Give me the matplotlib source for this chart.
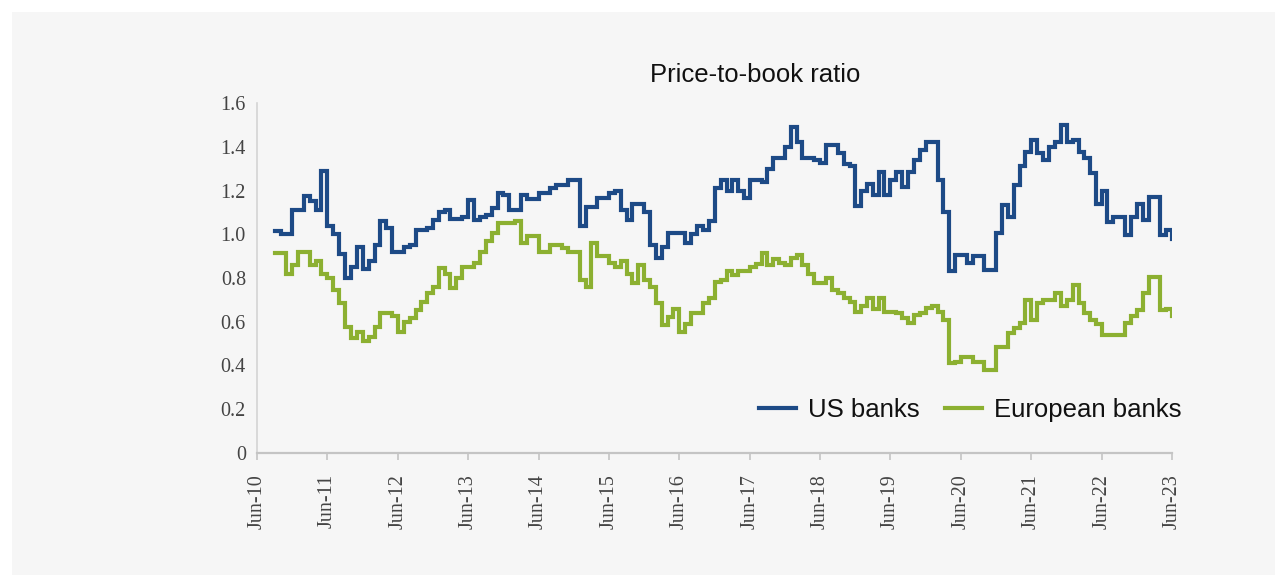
import matplotlib
matplotlib.use("Agg")
import matplotlib.dates as mdates
import matplotlib.pyplot as plt
import pandas as pd
from matplotlib.patches import Rectangle

# Monthly price-to-book readings (value applies from that month on)
us_dates = [
    "2010-09", "2010-10", "2010-12", "2011-02", "2011-03", "2011-04", "2011-05", "2011-06",
    "2011-07", "2011-08", "2011-09", "2011-10", "2011-11", "2011-12", "2012-01", "2012-02",
    "2012-03", "2012-04", "2012-05", "2012-07", "2012-08", "2012-09", "2012-11", "2012-12",
    "2013-01", "2013-02", "2013-03", "2013-05", "2013-06", "2013-07", "2013-08", "2013-09",
    "2013-10", "2013-11", "2013-12", "2014-01", "2014-03", "2014-04", "2014-06", "2014-08",
    "2014-09", "2014-11", "2015-01", "2015-02", "2015-04", "2015-06", "2015-07", "2015-08",
    "2015-09", "2015-10", "2015-12", "2016-01", "2016-02", "2016-03", "2016-04", "2016-07",
    "2016-08", "2016-09", "2016-10", "2016-11", "2016-12", "2017-01", "2017-02", "2017-03",
    "2017-04", "2017-05", "2017-06", "2017-08", "2017-09", "2017-10", "2017-12", "2018-01",
    "2018-02", "2018-03", "2018-05", "2018-06", "2018-07", "2018-09", "2018-10", "2018-11",
    "2018-12", "2019-01", "2019-02", "2019-03", "2019-04", "2019-05", "2019-06", "2019-07",
    "2019-08", "2019-09", "2019-10", "2019-11", "2019-12", "2020-02", "2020-03", "2020-04",
    "2020-05", "2020-07", "2020-08", "2020-10", "2020-12", "2021-01", "2021-02", "2021-03",
    "2021-04", "2021-05", "2021-06", "2021-07", "2021-08", "2021-09", "2021-10", "2021-11",
    "2021-12", "2022-01", "2022-02", "2022-03", "2022-04", "2022-05", "2022-06", "2022-07",
    "2022-08", "2022-10", "2022-11", "2022-12", "2023-01", "2023-02", "2023-04", "2023-05",
    "2023-06",
]
us_values = [
    1.015, 1.00, 1.11, 1.175, 1.15, 1.11, 1.29, 1.04,
    1.00, 0.91, 0.80, 0.85, 0.94, 0.84, 0.88, 0.95,
    1.06, 1.03, 0.92, 0.94, 0.95, 1.02, 1.03, 1.065,
    1.10, 1.11, 1.07, 1.08, 1.157, 1.065, 1.08, 1.09,
    1.12, 1.19, 1.18, 1.11, 1.18, 1.16, 1.19, 1.21,
    1.225, 1.25, 1.04, 1.125, 1.165, 1.19, 1.20, 1.11,
    1.065, 1.14, 1.10, 0.95, 0.89, 0.94, 1.005, 0.96,
    1.00, 1.04, 1.02, 1.06, 1.21, 1.25, 1.20, 1.25,
    1.20, 1.165, 1.25, 1.24, 1.30, 1.35, 1.40, 1.49,
    1.42, 1.35, 1.34, 1.325, 1.41, 1.37, 1.32, 1.31,
    1.13, 1.20, 1.23, 1.18, 1.285, 1.18, 1.25, 1.285,
    1.215, 1.285, 1.34, 1.385, 1.42, 1.25, 1.10, 0.83,
    0.905, 0.87, 0.90, 0.835, 1.005, 1.135, 1.08, 1.225,
    1.31, 1.375, 1.43, 1.37, 1.34, 1.40, 1.42, 1.50,
    1.42, 1.43, 1.375, 1.35, 1.28, 1.14, 1.20, 1.055,
    1.08, 0.995, 1.08, 1.14, 1.065, 1.17, 0.995, 1.02,
    0.98,
]

eu_dates = [
    "2010-09", "2010-11", "2010-12", "2011-01", "2011-03", "2011-04", "2011-05", "2011-06",
    "2011-07", "2011-08", "2011-09", "2011-10", "2011-11", "2011-12", "2012-01", "2012-02",
    "2012-03", "2012-05", "2012-06", "2012-07", "2012-08", "2012-09", "2012-10", "2012-11",
    "2012-12", "2013-01", "2013-02", "2013-03", "2013-04", "2013-05", "2013-07", "2013-08",
    "2013-09", "2013-10", "2013-11", "2014-02", "2014-03", "2014-04", "2014-06", "2014-08",
    "2014-10", "2014-11", "2015-01", "2015-02", "2015-03", "2015-04", "2015-06", "2015-07",
    "2015-08", "2015-09", "2015-10", "2015-11", "2015-12", "2016-01", "2016-02", "2016-03",
    "2016-04", "2016-05", "2016-06", "2016-07", "2016-08", "2016-10", "2016-11", "2016-12",
    "2017-01", "2017-02", "2017-03", "2017-04", "2017-06", "2017-07", "2017-08", "2017-09",
    "2017-10", "2017-11", "2017-12", "2018-01", "2018-02", "2018-03", "2018-04", "2018-05",
    "2018-07", "2018-08", "2018-09", "2018-10", "2018-11", "2018-12", "2019-01", "2019-02",
    "2019-03", "2019-04", "2019-05", "2019-07", "2019-08", "2019-09", "2019-10", "2019-11",
    "2019-12", "2020-01", "2020-02", "2020-03", "2020-04", "2020-05", "2020-06", "2020-08",
    "2020-10", "2020-12", "2021-02", "2021-03", "2021-04", "2021-05", "2021-06", "2021-07",
    "2021-08", "2021-10", "2021-11", "2021-12", "2022-01", "2022-02", "2022-03", "2022-04",
    "2022-05", "2022-06", "2022-10", "2022-11", "2022-12", "2023-01", "2023-02", "2023-04",
    "2023-05", "2023-06",
]
eu_values = [
    0.915, 0.82, 0.86, 0.92, 0.86, 0.88, 0.82, 0.80,
    0.745, 0.685, 0.575, 0.525, 0.555, 0.51, 0.53, 0.575,
    0.64, 0.625, 0.555, 0.60, 0.617, 0.655, 0.69, 0.73,
    0.76, 0.845, 0.82, 0.755, 0.80, 0.85, 0.87, 0.92,
    0.97, 1.005, 1.05, 1.06, 0.96, 0.99, 0.92, 0.95,
    0.935, 0.92, 0.79, 0.76, 0.96, 0.90, 0.87, 0.85,
    0.88, 0.82, 0.775, 0.86, 0.79, 0.76, 0.685, 0.585,
    0.62, 0.66, 0.555, 0.59, 0.64, 0.685, 0.71, 0.78,
    0.79, 0.83, 0.815, 0.83, 0.85, 0.865, 0.915, 0.86,
    0.885, 0.87, 0.86, 0.89, 0.905, 0.86, 0.82, 0.775,
    0.80, 0.745, 0.73, 0.71, 0.69, 0.645, 0.67, 0.71,
    0.66, 0.71, 0.645, 0.64, 0.617, 0.595, 0.63, 0.64,
    0.665, 0.67, 0.645, 0.61, 0.41, 0.415, 0.44, 0.415,
    0.38, 0.485, 0.55, 0.57, 0.595, 0.70, 0.61, 0.685,
    0.70, 0.73, 0.67, 0.70, 0.77, 0.685, 0.64, 0.61,
    0.59, 0.54, 0.595, 0.625, 0.655, 0.73, 0.805, 0.655,
    0.66, 0.625,
]

tick_years = list(range(2010, 2024))
y_ticks = [0, 0.2, 0.4, 0.6, 0.8, 1.0, 1.2, 1.4, 1.6]
y_tick_labels = ["0", "0.2", "0.4", "0.6", "0.8", "1.0", "1.2", "1.4", "1.6"]

US_BLUE = "#1d4a86"
EU_GREEN = "#8cb031"
PANEL = "#f6f6f6"

fig = plt.figure(figsize=(12.75, 5.75), dpi=100, facecolor="white")
# light grey card behind everything
fig.patches.append(Rectangle((12 / 1275, 0), 1, (575 - 12) / 575,
                             transform=fig.transFigure, facecolor=PANEL,
                             edgecolor="none", zorder=-10))

ax = fig.add_axes([257 / 1275, 1 - 453 / 575, (1172 - 257) / 1275, 350 / 575])
ax.set_facecolor("none")
ax.set_zorder(5)

us_x = pd.to_datetime(us_dates)
eu_x = pd.to_datetime(eu_dates)
ax.plot(us_x, us_values, drawstyle="steps-post", color=US_BLUE, lw=3.0,
        label="US banks", solid_joinstyle="miter")
ax.plot(eu_x, eu_values, drawstyle="steps-post", color=EU_GREEN, lw=3.0,
        label="European banks", solid_joinstyle="miter")

ax.set_xlim(pd.Timestamp("2010-06-01"), pd.Timestamp("2023-06-01"))
ax.set_ylim(0, 1.6)

ax.set_xticks([pd.Timestamp(f"{y}-06-01") for y in tick_years])
ax.xaxis.set_major_formatter(mdates.DateFormatter("%b-%y"))
ax.set_yticks(y_ticks)
ax.set_yticklabels(y_tick_labels)

for side in ("top", "right"):
    ax.spines[side].set_visible(False)
ax.spines["left"].set_color("#d4d4d4")
ax.spines["bottom"].set_color("#c4c4c4")
ax.spines["left"].set_linewidth(1.2)
ax.spines["bottom"].set_linewidth(1.6)

ax.tick_params(axis="x", direction="out", length=5, width=1.2, color="#c4c4c4",
               labelrotation=90, pad=10, labelsize=14.5, labelcolor="#444444")
ax.tick_params(axis="y", length=0, pad=8, labelsize=14.5, labelcolor="#444444")
for lbl in ax.get_xticklabels() + ax.get_yticklabels():
    lbl.set_fontfamily("Liberation Serif")

fig.text(755 / 1275, 1 - 75 / 575, "Price-to-book ratio", ha="center", va="center",
         fontsize=18.5, family="Liberation Sans", color="#111111")

ax.legend(loc="center right", bbox_to_anchor=(1.01, 0.123), ncol=2, frameon=False,
          prop={"family": "Liberation Sans", "size": 18.5}, handlelength=1.45,
          handletextpad=0.45, columnspacing=1.0, borderaxespad=0, borderpad=0)
for txt in ax.get_legend().get_texts():
    txt.set_color("#111111")

fig.savefig("out.png", dpi=100, facecolor="white")
